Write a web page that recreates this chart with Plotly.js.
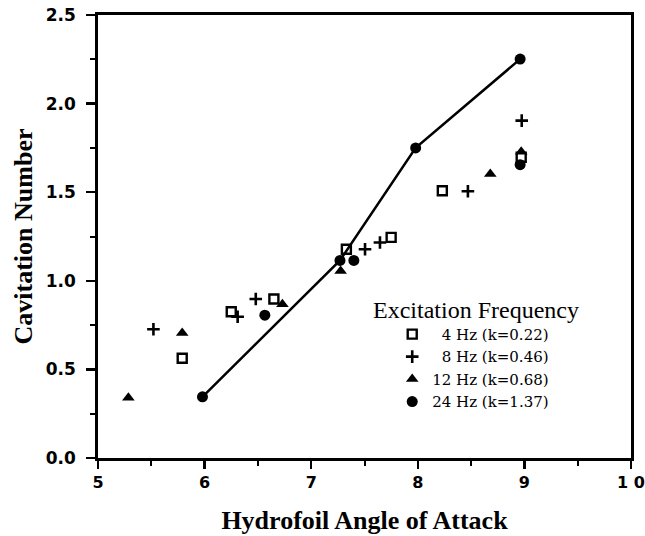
<!DOCTYPE html>
<html>
<head>
<meta charset="utf-8">
<script src="https://cdn.plot.ly/plotly-3.0.1.min.js"></script>
<style>html,body{margin:0;padding:0;background:#fff;}#chart{width:645px;height:536px;}</style>
</head>
<body>
<div id="chart"></div>
<script>
// ---- data ----
const seriesNames = ["&nbsp;&nbsp;4 Hz (k=0.22)", "&nbsp;&nbsp;8 Hz (k=0.46)", "12 Hz (k=0.68)", "24 Hz (k=1.37)"];

const hz4_x = [5.79, 6.25, 6.65, 7.33, 7.75, 8.23, 8.97];
const hz4_y = [0.563, 0.825, 0.897, 1.178, 1.245, 1.508, 1.697];

const hz8_x = [5.52, 6.31, 6.48, 7.505, 7.645, 8.47, 8.975];
const hz8_y = [0.727, 0.797, 0.897, 1.178, 1.216, 1.505, 1.904];

const hz12_x = [5.285, 5.79, 6.73, 7.276, 8.68, 8.97];
const hz12_y = [0.34, 0.705, 0.868, 1.056, 1.603, 1.728];

const hz24_x = [5.98, 6.565, 7.27, 7.40, 7.98, 8.96, 8.96];
const hz24_y = [0.345, 0.806, 1.115, 1.115, 1.750, 2.251, 1.655];

// solid curve drawn through the 24 Hz data
const curve_x = [5.98, 7.27, 7.98, 8.96];
const curve_y = [0.345, 1.115, 1.750, 2.251];

const xTickVals = [5, 6, 7, 8, 9, 10];
const xTickText = ["5", "6", "7", "8", "9", "1 0"];
const yTickVals = [0, 0.5, 1.0, 1.5, 2.0, 2.5];
const yTickText = ["0.0", "0.5", "1.0", "1.5", "2.0", "2.5"];

const xTitle = "Hydrofoil Angle of Attack";
const yTitle = "Cavitation Number";
const legendTitle = "Excitation Frequency";

// ---- traces ----
const serif = "Liberation Serif, Times New Roman, serif";
const legendSerif = "DejaVu Serif, Liberation Serif, serif";
const sans = "DejaVu Sans, Arial, sans-serif";
const bold = s => "<b>" + s + "</b>";

const traces = [
  {x: curve_x, y: curve_y, mode: "lines", line: {color: "#000", width: 2.5}, showlegend: false, hoverinfo: "skip"},
  {x: hz4_x, y: hz4_y, name: seriesNames[0], mode: "markers",
   marker: {symbol: "square-open", size: 9, color: "#000", line: {color: "#000", width: 2.4}}},
  {x: hz8_x, y: hz8_y, name: seriesNames[1], mode: "markers",
   marker: {symbol: "cross-thin", size: 9, color: "#000", line: {color: "#000", width: 2.6}}},
  {x: hz12_x, y: hz12_y, name: seriesNames[2], mode: "markers",
   marker: {symbol: "triangle-up", size: 11, color: "#000", line: {width: 0}}},
  {x: hz24_x, y: hz24_y, name: seriesNames[3], mode: "markers",
   marker: {symbol: "circle", size: 11, color: "#000", line: {width: 0}}}
];

const layout = {
  width: 645, height: 536,
  margin: {l: 98, r: 14, t: 15, b: 78},
  paper_bgcolor: "#fff", plot_bgcolor: "#fff",
  showlegend: true,
  xaxis: {
    range: [5, 10], tickmode: "array", tickvals: xTickVals, ticktext: xTickText.map(bold),
    showgrid: false, zeroline: false,
    showline: true, linecolor: "#000", linewidth: 2.8, mirror: true,
    ticks: "outside", ticklen: 8, tickwidth: 2.5, tickcolor: "#000",
    minor: {dtick: 0.5, ticks: "outside", ticklen: 5, tickwidth: 2, tickcolor: "#000"},
    tickfont: {family: sans, size: 16, color: "#000"},
    title: {text: bold(xTitle), font: {family: serif, size: 26, color: "#000"}, standoff: 20}
  },
  yaxis: {
    range: [0, 2.5], tickmode: "array", tickvals: yTickVals, ticktext: yTickText.map(bold),
    showgrid: false, zeroline: false,
    showline: true, linecolor: "#000", linewidth: 2.8, mirror: true,
    ticks: "outside", ticklen: 9, tickwidth: 2.5, tickcolor: "#000",
    ticklabelstandoff: 7,
    minor: {dtick: 0.25, ticks: "outside", ticklen: 5, tickwidth: 2, tickcolor: "#000"},
    tickfont: {family: sans, size: 17, color: "#000"},
    title: {text: bold(yTitle), font: {family: serif, size: 26, color: "#000"}, standoff: 6}
  },
  legend: {
    x: 0.552, y: 0.3164, xanchor: "left", yanchor: "top",
    bgcolor: "rgba(0,0,0,0)", borderwidth: 0,
    font: {family: legendSerif, size: 15, color: "#000"},
    itemclick: false
  },
  annotations: [
    {text: legendTitle, xref: "paper", yref: "paper", x: 0.5115, y: 0.333,
     xanchor: "left", yanchor: "middle", showarrow: false,
     font: {family: serif, size: 24, color: "#000"}}
  ]
};

Plotly.newPlot("chart", traces, layout, {staticPlot: true, displayModeBar: false});
</script>
</body>
</html>
